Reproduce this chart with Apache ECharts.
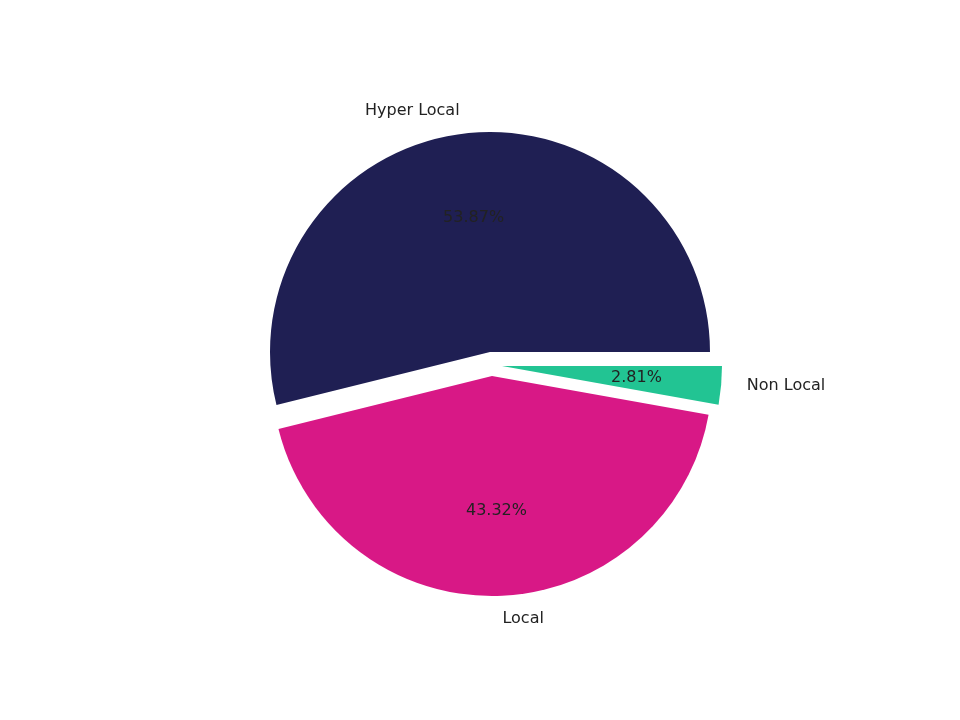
<!DOCTYPE html>
<html><head><meta charset="utf-8">
<script src="https://cdn.jsdelivr.net/npm/echarts@6/dist/echarts.min.js"></script>
<style>html,body{margin:0;background:#fff}#c{width:960px;height:720px}</style>
</head><body><div id="c"></div>
<script>
const categories = ['Hyper Local', 'Local', 'Non Local']
const values = [53.87, 43.32, 2.81]
const shiftX = [0, 2, 12]
const shiftY = [0, 24, 14]
const colors = ['#1f1f53', '#d81886', '#22c493']
const nameOffset = [[-48, 2], [23, -2], [40, -2]]

const cx = 490, cy = 352, R = 220
const font = 'DejaVu Sans'

const series = []
categories.forEach((name, i) => {
  const c = [cx + shiftX[i], cy + shiftY[i]]
  const base = { type: 'pie', center: c, startAngle: 0, clockwise: false, silent: true, animation: false, labelLine: { show: false } }
  const data = (visible, label) => categories.map((n, j) => ({
    name: n, value: values[j],
    itemStyle: { color: j === i && visible ? colors[j] : 'rgba(0,0,0,0)' },
    label: j === i ? label : { show: false }
  }))
  // 扇区本体
  series.push({ ...base, radius: [0, R], data: data(true, { show: false }) })
  // 百分比标签 (0.6R)
  series.push({ ...base, radius: [0, R * 1.2], data: data(false, {
    show: true, position: 'inside', formatter: values[i].toFixed(2) + '%',
    color: '#222', fontSize: 16, fontFamily: font }) })
  // 名称标签 (1.1R)
  series.push({ ...base, radius: [0, R * 2.2], data: data(false, {
    show: true, position: 'inside', formatter: name, offset: nameOffset[i],
    color: '#222', fontSize: 16, fontFamily: font }) })
})

const chart = echarts.init(document.getElementById('c'))
chart.setOption({ backgroundColor: '#fff', series })
</script></body></html>
